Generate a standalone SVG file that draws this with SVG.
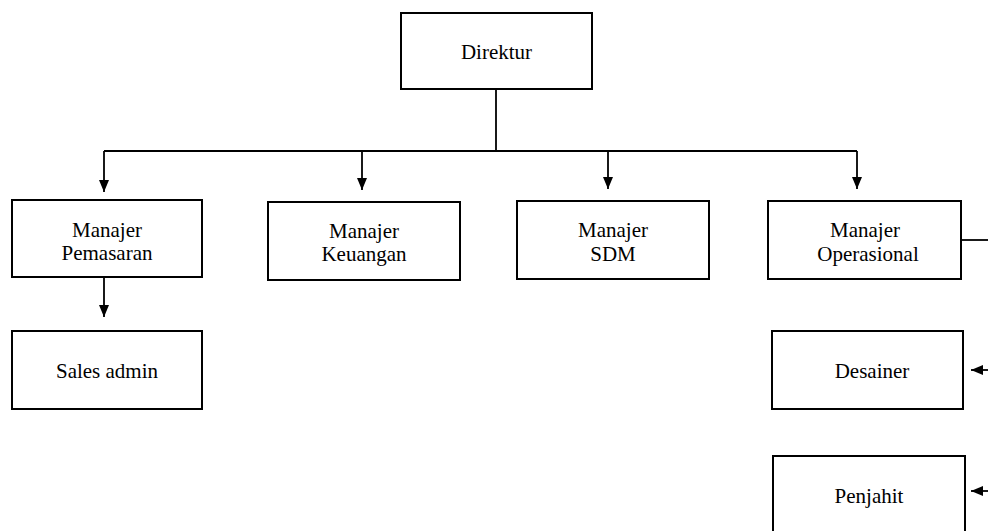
<svg xmlns="http://www.w3.org/2000/svg" width="988" height="531" viewBox="0 0 988 531">
<style>
.box{fill:#fff;stroke:#000;stroke-width:2}
.t{font-family:"Liberation Serif","Times New Roman",serif;font-size:21px;fill:#000;text-anchor:middle}
.c{fill:none;stroke:#000;stroke-width:1.8}
</style>
<defs>
<marker id="ah" viewBox="0 0 12 10" refX="12" refY="5" markerWidth="12" markerHeight="10" markerUnits="userSpaceOnUse" orient="auto">
<path d="M0,0 L12,5 L0,10 z" fill="#000"/>
</marker>
</defs>
<rect width="988" height="531" fill="#fff"/>
<g id="connectors">
<path class="c" d="M496,89 V151"/>
<path class="c" d="M104,151 H857"/>
<path class="c" d="M104,151 V192" marker-end="url(#ah)"/>
<path class="c" d="M362,151 V190" marker-end="url(#ah)"/>
<path class="c" d="M608,151 V189" marker-end="url(#ah)"/>
<path class="c" d="M857,151 V189" marker-end="url(#ah)"/>
<path class="c" d="M104,277 V317" marker-end="url(#ah)"/>
<path class="c" d="M960,240 H988"/>
<path class="c" d="M988,370 H971" marker-end="url(#ah)"/>
<path class="c" d="M988,491 H971" marker-end="url(#ah)"/>
</g>
<g id="direktur">
<rect class="box" x="401" y="13" width="191" height="76"/>
<text class="t" x="496.5" y="59">Direktur</text>
</g>
<g id="pemasaran">
<rect class="box" x="12" y="200" width="190" height="77"/>
<text class="t" x="107" y="237">Manajer</text>
<text class="t" x="107" y="260">Pemasaran</text>
</g>
<g id="keuangan">
<rect class="box" x="268" y="202" width="192" height="78"/>
<text class="t" x="364" y="238">Manajer</text>
<text class="t" x="364" y="261">Keuangan</text>
</g>
<g id="sdm">
<rect class="box" x="517" y="201" width="192" height="78"/>
<text class="t" x="613" y="237">Manajer</text>
<text class="t" x="613" y="261">SDM</text>
</g>
<g id="operasional">
<rect class="box" x="768" y="201" width="193" height="78"/>
<text class="t" x="865" y="237">Manajer</text>
<text class="t" x="868" y="261">Operasional</text>
</g>
<g id="sales-admin">
<rect class="box" x="12" y="331" width="190" height="78"/>
<text class="t" x="107" y="378">Sales admin</text>
</g>
<g id="desainer">
<rect class="box" x="772" y="331" width="191" height="78"/>
<text class="t" x="872" y="378">Desainer</text>
</g>
<g id="penjahit">
<rect class="box" x="773" y="456" width="192" height="100"/>
<text class="t" x="869" y="503">Penjahit</text>
</g>
</svg>
